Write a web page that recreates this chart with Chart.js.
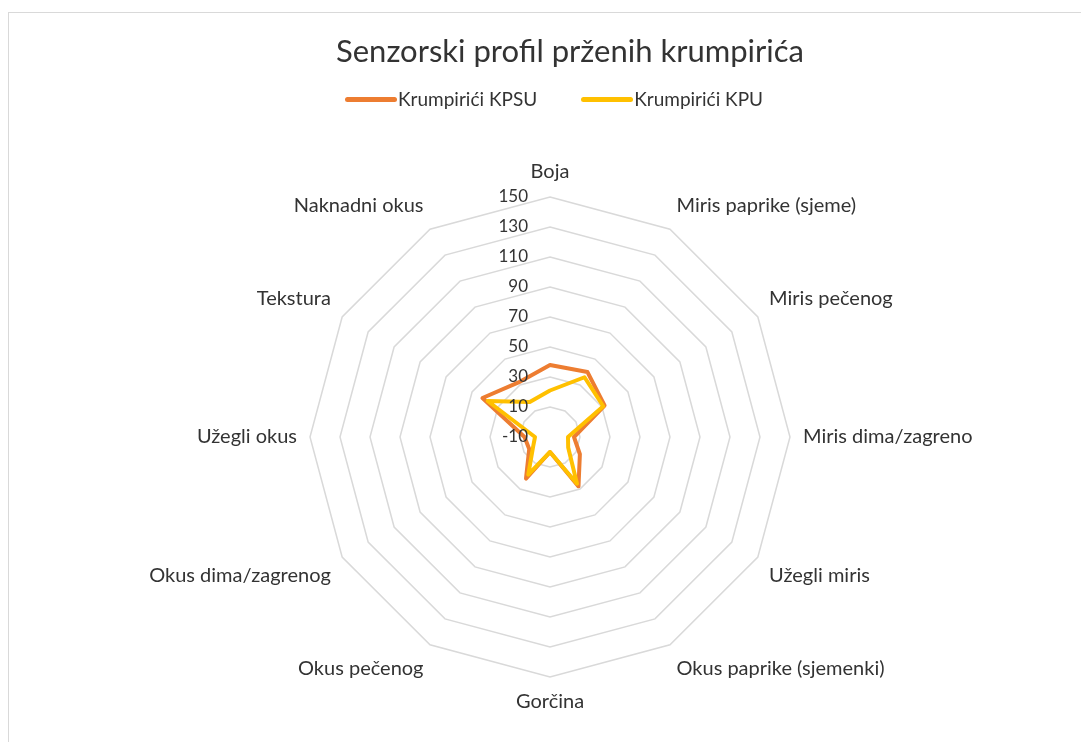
<!DOCTYPE html>
<html lang="hr">
<head>
<meta charset="utf-8">
<title>Senzorski profil prženih krumpirića</title>
<script src="https://cdn.jsdelivr.net/npm/chart.js@4/dist/chart.umd.min.js"></script>
<style>
  html, body { margin: 0; padding: 0; background: #fff; overflow: hidden; }
  body { font-family: Lato, "Liberation Sans", sans-serif; color: #404040; }
  .okvir {
    position: absolute; left: 8px; top: 12px; width: 1100px; height: 760px;
    border: 1px solid #d9d9d9; box-sizing: border-box;
  }
  .graf { position: absolute; left: 0; top: 0; width: 1081px; height: 742px; }
  .naslov {
    position: absolute; left: 570px; top: 31px; transform: translateX(-50%);
    font-size: 31px; line-height: 38px; white-space: nowrap; color: #333;
  }
  .legenda {
    position: absolute; left: 345px; top: 87px; display: flex; align-items: center;
    font-size: 19px; line-height: 24px; white-space: nowrap; color: #333;
  }
  .legenda .stavka { display: flex; align-items: center; margin-right: 44px; }
  .legenda .crta { width: 52px; height: 5px; border-radius: 3px; margin-right: 1px; }
</style>
</head>
<body>
<div class="okvir"></div>
<div class="graf"><canvas id="radar"></canvas></div>
<div class="naslov">Senzorski profil prženih krumpirića</div>
<div class="legenda" id="legenda"></div>

<script>
// ocjene senzorskih svojstava
const svojstva = [
    'Boja', 'Miris paprike (sjeme)', 'Miris pečenog', 'Miris dima/zagreno',
    'Užegli miris', 'Okus paprike (sjemenki)', 'Gorčina', 'Okus pečenog',
    'Okus dima/zagrenog', 'Užegli okus', 'Tekstura', 'Naknadni okus'
];
const krumpiriciKPSU = [38, 40, 32, 6, 13, 28, 0, 22, 6, 7, 42, 32];
const krumpiriciKPU = [21, 36, 31, 2, 4, 26, 0, 19, 3, 0, 38, 17];
const skalaMin = -10;
const skalaMax = 150;
const skalaKorak = 20;

Chart.defaults.font.family = "Lato, 'Liberation Sans', sans-serif";
Chart.defaults.color = '#404040';

// brojevi skale lijevo od okomite osi, kao u Excelu
const oznakeSkale = {
    id: 'oznakeSkale',
    afterDatasetsDraw(chart) {
        const r = chart.scales.r;
        const ctx = chart.ctx;
        ctx.save();
        ctx.font = "17px Lato, 'Liberation Sans', sans-serif";
        ctx.fillStyle = '#333';
        ctx.textAlign = 'right';
        ctx.textBaseline = 'middle';
        r.ticks.forEach(function(t) {
            const d = r.getDistanceFromCenterForValue(t.value);
            ctx.fillText(String(t.value), r.xCenter - 22, r.yCenter - d);
        });
        ctx.restore();
    }
};

const ctx = document.getElementById('radar').getContext('2d');
const graf = new Chart(ctx, {
    type: 'radar',
    data: {
        labels: svojstva,
        datasets: [{
            label: 'Krumpirići KPSU',
            data: krumpiriciKPSU,
            borderColor: '#ed7d31',
            backgroundColor: '#ed7d31',
            borderWidth: 4,
            fill: false,
            pointRadius: 0,
            order: 1
        }, {
            label: 'Krumpirići KPU',
            data: krumpiriciKPU,
            borderColor: '#ffc000',
            backgroundColor: '#ffc000',
            borderWidth: 4,
            fill: false,
            pointRadius: 0,
            order: 0
        }]
    },
    options: {
        responsive: true,
        maintainAspectRatio: false,
        animation: false,
        layout: {
            padding: { top: 160, bottom: 28, left: 20, right: 0 }
        },
        plugins: {
            legend: { display: false },
            title: { display: false },
            tooltip: { enabled: false }
        },
        elements: {
            line: { tension: 0, borderJoinStyle: 'round' }
        },
        scales: {
            r: {
                min: skalaMin,
                max: skalaMax,
                ticks: { stepSize: skalaKorak, display: false },
                angleLines: { display: false },
                grid: { circular: false, color: '#d9d9d9', lineWidth: 1.5 },
                pointLabels: {
                    padding: 13,
                    color: '#333',
                    font: { size: 20 }
                }
            }
        }
    },
    plugins: [oznakeSkale]
});

// legenda iz podataka grafa
const legenda = document.getElementById('legenda');
graf.data.datasets.forEach(function(ds) {
    const stavka = document.createElement('div');
    stavka.className = 'stavka';
    const crta = document.createElement('span');
    crta.className = 'crta';
    crta.style.background = ds.borderColor;
    const tekst = document.createElement('span');
    tekst.textContent = ds.label;
    stavka.appendChild(crta);
    stavka.appendChild(tekst);
    legenda.appendChild(stavka);
});
</script>
</body>
</html>
